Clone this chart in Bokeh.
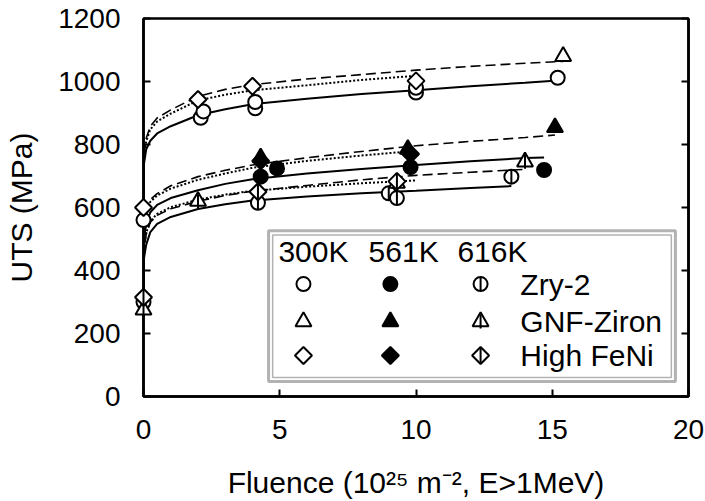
import numpy as np
from bokeh.plotting import figure
from bokeh.models import Range1d, LinearAxis, FixedTicker, BoxAnnotation, Label
from bokeh.embed import file_html
from bokeh.resources import INLINE

FONT = "Liberation Sans"

# ---------------- data ----------------
x_ticks = [0, 5, 10, 15, 20]
y_ticks = [0, 200, 400, 600, 800, 1000, 1200]

# 300K (open symbols)
zry_300_x = [0, 2.1, 2.2, 4.1, 4.1, 10.0, 10.0, 15.2]
zry_300_y = [560, 885, 905, 915, 935, 965, 980, 1012]
gnf_300_x = [15.4]
gnf_300_y = [1080]
feni_300_x = [0, 2.0, 4.0, 10.0]
feni_300_y = [600, 943, 985, 1002]

# 561K (filled symbols)
zry_561_x = [4.3, 4.9, 9.8, 14.7]
zry_561_y = [698, 724, 728, 719]
gnf_561_x = [4.3, 9.7, 15.1]
gnf_561_y = [758, 785, 854]
feni_561_x = [4.3, 9.8]
feni_561_y = [748, 770]

# 616K (half symbols)
zry_616_x = [0, 4.2, 9.0, 9.3, 13.5]
zry_616_y = [300, 615, 645, 630, 698]
gnf_616_x = [0, 2.0, 9.3, 14.0]
gnf_616_y = [275, 620, 677, 745]
feni_616_x = [0, 4.2, 9.3]
feni_616_y = [315, 650, 683]

# fitted curves
c_zry_300_x = [0, 0.02, 0.1, 0.25, 0.5, 1, 2, 3, 4, 6, 8, 10, 12, 14, 15.2]
c_zry_300_y = [560, 740, 785, 812, 835, 858, 893, 912, 928, 945, 960, 972, 985, 996, 1003]
c_gnf_300_x = [0, 0.02, 0.1, 0.25, 0.5, 1, 2, 3, 4, 6, 8, 10, 12, 14, 15.4]
c_gnf_300_y = [580, 770, 820, 858, 884, 910, 953, 975, 990, 1008, 1022, 1036, 1048, 1058, 1064]
c_feni_300_x = [0, 0.02, 0.1, 0.25, 0.5, 1, 2, 3, 4, 6, 8, 10]
c_feni_300_y = [600, 765, 810, 848, 873, 898, 940, 958, 972, 988, 1005, 1018]

c_gnf_561_x = [0, 0.02, 0.1, 0.25, 0.5, 1, 2, 3, 4, 6, 8, 10, 12, 14, 15.1]
c_gnf_561_y = [300, 560, 600, 625, 644, 669, 698, 718, 735, 758, 778, 796, 810, 822, 830]
c_zry_561_x = [0, 0.02, 0.1, 0.25, 0.5, 1, 2, 3, 4, 6, 8, 10, 12, 14, 14.7]
c_zry_561_y = [300, 500, 550, 585, 608, 630, 655, 675, 690, 708, 722, 735, 747, 757, 759]
c_feni_561_x = [0, 0.02, 0.1, 0.25, 0.5, 1, 2, 3, 4, 6, 8, 10]
c_feni_561_y = [300, 540, 590, 618, 638, 660, 688, 708, 726, 748, 765, 780]

c_gnf_616_x = [0, 0.02, 0.1, 0.25, 0.5, 1, 2, 3, 4, 6, 8, 10, 12, 14]
c_gnf_616_y = [300, 470, 515, 553, 575, 596, 620, 638, 652, 670, 688, 702, 712, 721]
c_feni_616_x = [0, 0.02, 0.1, 0.25, 0.5, 1, 2, 3, 4, 6, 8, 10]
c_feni_616_y = [310, 475, 520, 556, 580, 601, 625, 641, 653, 666, 677, 686]
c_zry_616_x = [0, 0.02, 0.1, 0.25, 0.5, 1, 2, 3, 4, 6, 8, 10, 12, 13.5]
c_zry_616_y = [300, 440, 482, 522, 548, 570, 595, 610, 622, 635, 645, 653, 662, 668]

# legend content
leg_headers = ["300K", "561K", "616K"]
leg_labels = ["Zry-2", "GNF-Ziron", "High FeNi"]

# ---------------- figure ----------------
p = figure(width=705, height=501, x_range=Range1d(0, 20), y_range=Range1d(0, 1200),
           output_backend="svg", toolbar_location=None,
           min_border_left=143, min_border_right=17, min_border_top=18, min_border_bottom=104)
p.background_fill_color = "white"
p.border_fill_color = "white"
p.grid.visible = False
p.outline_line_color = "black"
p.outline_line_width = 2.5
p.outline_line_alpha = 1.0

for ax in (p.xaxis[0], p.yaxis[0]):
    ax.major_tick_in = 7
    ax.major_tick_out = 0
    ax.minor_tick_line_color = None
    ax.axis_line_width = 2.5
    ax.major_tick_line_width = 2
    ax.major_label_text_font = FONT
    ax.major_label_text_font_size = "28px"
    ax.major_label_text_color = "black"
    ax.axis_label_text_font = FONT
    ax.axis_label_text_font_size = "30px"
    ax.axis_label_text_font_style = "normal"
    ax.axis_label_text_color = "black"

p.xaxis.ticker = FixedTicker(ticks=x_ticks)
p.yaxis.ticker = FixedTicker(ticks=y_ticks)
p.xaxis.major_label_standoff = 23
p.yaxis.major_label_standoff = 23
p.xaxis.axis_label = "Fluence (10\u00b2\u2075 m\u207b\u00b2, E>1MeV)"
p.yaxis.axis_label = "UTS (MPa)"
p.xaxis.axis_label_standoff = 24
p.yaxis.axis_label_standoff = 17

rax = LinearAxis(ticker=FixedTicker(ticks=y_ticks),
                 major_label_overrides={t: "" for t in y_ticks},
                 major_label_standoff=0, major_tick_in=7, major_tick_out=0,
                 minor_tick_line_color=None, axis_line_width=2.5, major_tick_line_width=2)
p.add_layout(rax, "right")

# ---------------- curves ----------------
def curve(xs, ys, dash, lw):
    p.line(xs, ys, line_color="black", line_width=lw, line_dash=dash)

curve(c_zry_300_x, c_zry_300_y, "solid", 2)
curve(c_gnf_300_x, c_gnf_300_y, "10 5", 1.6)
curve(c_feni_300_x, c_feni_300_y, "2 2", 2)
curve(c_zry_561_x, c_zry_561_y, "solid", 2)
curve(c_gnf_561_x, c_gnf_561_y, "10 5", 1.6)
curve(c_feni_561_x, c_feni_561_y, "2 2", 2)
curve(c_zry_616_x, c_zry_616_y, "solid", 2)
curve(c_gnf_616_x, c_gnf_616_y, "10 5", 1.6)
curve(c_feni_616_x, c_feni_616_y, "2 2", 2)

# ---------------- markers ----------------
SIZES = {"circle": 14, "triangle": 16, "diamond": 12}

def marks(xs, ys, shape, style):
    fill = "black" if style == "filled" else "white"
    if shape == "diamond":
        p.scatter(xs, ys, marker="square", angle=np.pi / 4, size=SIZES["diamond"],
                  fill_color=fill, line_color="black", line_width=2, level="overlay")
        bar = 16
    elif shape == "triangle":
        p.scatter(xs, ys, marker="triangle", size=SIZES["triangle"],
                  fill_color=fill, line_color="black", line_width=2, level="overlay")
        bar = 14
    else:
        p.scatter(xs, ys, marker="circle", size=SIZES["circle"],
                  fill_color=fill, line_color="black", line_width=2, level="overlay")
        bar = 14
    if style == "half":
        p.scatter(xs, ys, marker="dash", angle=np.pi / 2, size=bar,
                  line_color="black", line_width=2, level="overlay")

marks(zry_300_x, zry_300_y, "circle", "open")
marks(gnf_300_x, gnf_300_y, "triangle", "open")
marks(feni_300_x, feni_300_y, "diamond", "open")
marks(zry_561_x, zry_561_y, "circle", "filled")
marks(gnf_561_x, gnf_561_y, "triangle", "filled")
marks(feni_561_x, feni_561_y, "diamond", "filled")
marks(zry_616_x, zry_616_y, "circle", "half")
marks(gnf_616_x, gnf_616_y, "triangle", "half")
marks(feni_616_x, feni_616_y, "diamond", "half")

# ---------------- legend box ----------------
p.add_layout(BoxAnnotation(left=4.59, right=19.52, bottom=47.5, top=526,
                           fill_color="white", fill_alpha=1, line_color="black",
                           line_width=3, level="underlay"))
p.add_layout(BoxAnnotation(left=4.74, right=19.37, bottom=60, top=513,
                           fill_alpha=0, line_color="black", line_width=1.5,
                           level="underlay"))

head_x = [4.95, 8.26, 11.52]
for hx, t in zip(head_x, leg_headers):
    p.add_layout(Label(x=hx, y=460, text=t, text_font=FONT, text_font_size="30px",
                       text_baseline="middle", text_align="left", text_color="black"))

col_x = [5.87, 9.06, 12.37]
row_y = [357, 238, 130]
shapes = ["circle", "triangle", "diamond"]
styles = ["open", "filled", "half"]
for ry, shp, lab in zip(row_y, shapes, leg_labels):
    for cx, st in zip(col_x, styles):
        marks([cx], [ry], shp, st)
    p.add_layout(Label(x=13.83, y=ry, text=lab, text_font=FONT, text_font_size="30px",
                       text_baseline="middle", text_align="left", text_color="black"))

open("out.html", "w").write(file_html(p, INLINE))
